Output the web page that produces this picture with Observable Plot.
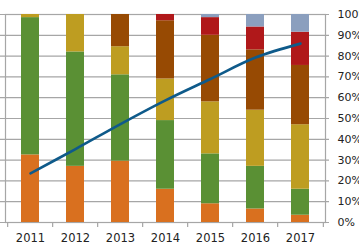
<!DOCTYPE html>
<html>
<head>
<meta charset="utf-8">
<script src="https://cdn.jsdelivr.net/npm/d3@7"></script>
<script src="https://cdn.jsdelivr.net/npm/@observablehq/plot@0.6"></script>
<style>
  body { margin: 0; background: #fff; }
  #chart svg { display: block; }
</style>
</head>
<body>
<div id="chart"></div>
<script>
// Years along the bottom axis
const years = ["2011", "2012", "2013", "2014", "2015", "2016", "2017"];

// Share of each segment per year (percent), stacked bottom to top
const segA = [32.5, 27, 29.5, 16, 9, 6.5, 3.5];
const segB = [66, 55, 41.5, 33, 24, 20.5, 12.5];
const segC = [1.5, 18, 13.5, 20, 25, 27, 31];
const segD = [0, 0, 15.5, 28, 32, 29, 28.5];
const segE = [0, 0, 0, 3, 8.5, 11, 16];
const segF = [0, 0, 0, 0, 1.5, 6, 8.5];

// Trend line (percent)
const trend = [23.6, 35.3, 47.3, 58.7, 69, 79.3, 86];

// Right-hand axis ticks
const yTicks = [0, 10, 20, 30, 40, 50, 60, 70, 80, 90, 100];

const segNames = ["A", "B", "C", "D", "E", "F"];
const segValues = [segA, segB, segC, segD, segE, segF];
const segColors = ["#D9701F", "#5A9034", "#BE9D21", "#974A03", "#B0181A", "#8B9FBE"];

const stacked = segNames.flatMap((name, s) =>
  years.map((year, i) => ({year, seg: name, value: segValues[s][i]}))
);
const trendData = years.map((year, i) => ({year, value: trend[i]}));

const W = 359, H = 250;
const mL = 5, mR = 34, mT = 14, mB = 28;
const step = (W - mL - mR) / years.length;
const grid = "#A6A6A6";

const chart = Plot.plot({
  width: W,
  height: H,
  marginLeft: mL,
  marginRight: mR,
  marginTop: mT,
  marginBottom: mB,
  style: {fontFamily: "DejaVu Sans", fontSize: "11px", color: "#222", background: "#fff"},
  x: {domain: years, paddingInner: 0.6, paddingOuter: 0.3, label: null},
  y: {domain: [0, 100], label: null},
  color: {domain: segNames, range: segColors},
  marks: [
    Plot.ruleY(yTicks, {stroke: grid, strokeWidth: 1.2, insetLeft: -5, insetRight: -4}),
    Plot.frame({stroke: grid, strokeWidth: 1.2}),
    Plot.ruleX(years, {x: d => d, y1: 0, y2: 0, insetBottom: -5, dx: -step / 2, stroke: grid, strokeWidth: 1.2}),
    Plot.ruleX(years.slice(-1), {x: d => d, y1: 0, y2: 0, insetBottom: -5, dx: step / 2, stroke: grid, strokeWidth: 1.2}),
    Plot.barY(stacked, {x: "year", y: "value", fill: "seg", order: segNames}),
    Plot.line(trendData, {x: "year", y: "value", curve: "catmull-rom", stroke: "#0E5A8A", strokeWidth: 2.6}),
    Plot.axisY(yTicks, {anchor: "right", tickSize: 0, tickPadding: 12, tickFormat: d => d + "%", fill: "#222"}),
    Plot.axisX({anchor: "bottom", tickSize: 0, tickPadding: 11, fill: "#222", fontSize: "11.5px"})
  ]
});

document.getElementById("chart").appendChild(chart);
</script>
</body>
</html>
